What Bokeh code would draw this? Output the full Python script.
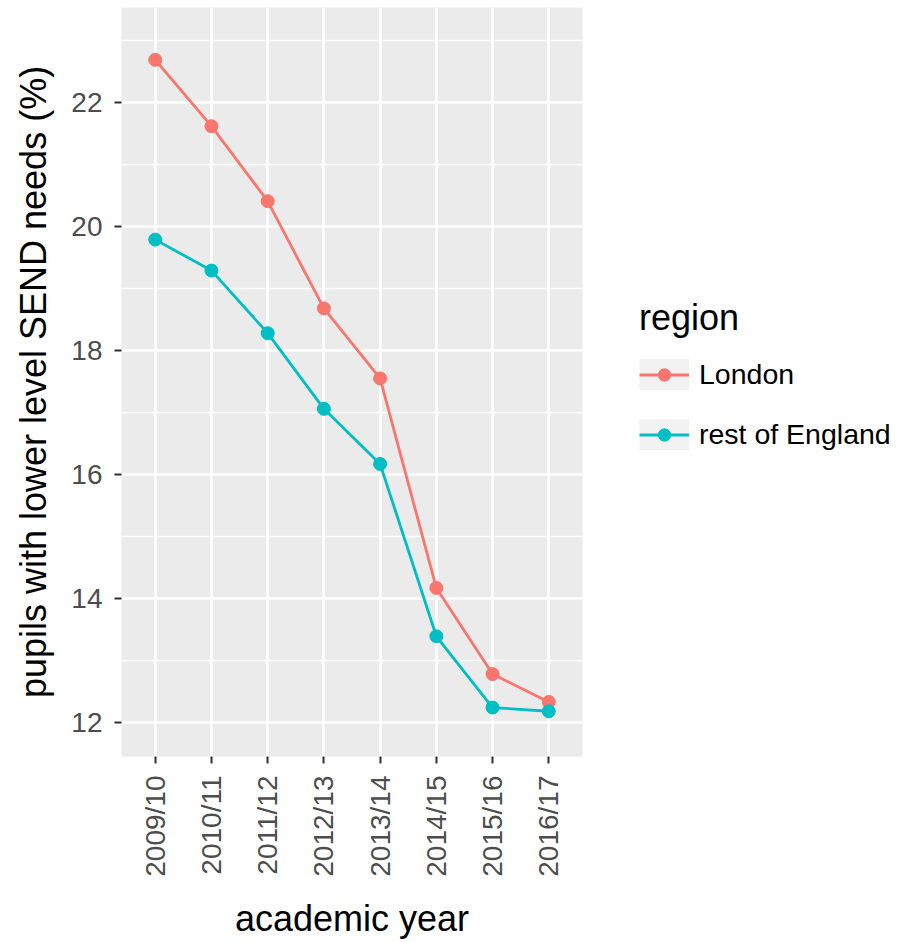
import math
from bokeh.plotting import figure
from bokeh.layouts import row
from bokeh.models import FactorRange, Range1d, FixedTicker, Legend, LegendItem
from bokeh.embed import file_html
from bokeh.resources import INLINE

# ---- data ----
years = ["2009/10", "2010/11", "2011/12", "2012/13", "2013/14", "2014/15", "2015/16", "2016/17"]
london = [22.69, 21.62, 20.41, 18.68, 17.55, 14.17, 12.78, 12.33]
rest_of_england = [19.79, 19.29, 18.28, 17.06, 16.17, 13.39, 12.24, 12.18]
y_ticks = [12, 14, 16, 18, 20, 22]
y_minor = [11, 13, 15, 17, 19, 21, 23]

FONT = "Liberation Sans"
C_LONDON = "#F8766D"
C_REST = "#00BFC4"

P_WIDTH = 590
TOTAL_W, TOTAL_H = 903, 942

p = figure(
    width=P_WIDTH, height=TOTAL_H,
    x_range=FactorRange(factors=years, range_padding=0.1, range_padding_units="absolute"),
    y_range=Range1d(11.45, 23.535),
    output_backend="svg", toolbar_location=None,
    min_border_left=121, min_border_right=8, min_border_top=7, min_border_bottom=186,
)
p.background_fill_color = "#EBEBEB"
p.border_fill_color = "white"
p.outline_line_color = None

for ax in (p.xaxis[0], p.yaxis[0]):
    ax.axis_line_color = None
    ax.major_tick_line_color = "#333333"
    ax.major_tick_line_width = 2
    ax.major_tick_in = 0
    ax.major_tick_out = 7
    ax.minor_tick_line_color = None
    ax.major_label_text_font = FONT
    ax.major_label_text_font_size = "28px"
    ax.major_label_text_color = "#4D4D4D"
    ax.axis_label_text_font = FONT
    ax.axis_label_text_font_size = "36px"
    ax.axis_label_text_font_style = "normal"
    ax.axis_label_text_color = "black"

p.xaxis.axis_label = "academic year"
p.xaxis.major_label_orientation = math.pi / 2
p.xaxis.major_label_text_baseline = "top"
p.xaxis.major_label_standoff = 12
p.xaxis.axis_label_standoff = 18

p.yaxis.ticker = FixedTicker(ticks=y_ticks, minor_ticks=y_minor)
p.yaxis.axis_label = "pupils with lower level SEND needs (%)"
p.yaxis.major_label_standoff = 12
p.yaxis.axis_label_standoff = 14

p.xgrid.grid_line_color = "white"
p.xgrid.grid_line_width = 2.6
p.ygrid.grid_line_color = "white"
p.ygrid.grid_line_width = 2.6
p.ygrid.minor_grid_line_color = "white"
p.ygrid.minor_grid_line_width = 1.3

p.line(years, london, line_color=C_LONDON, line_width=2.8)
p.scatter(years, london, size=13, color=C_LONDON)
p.line(years, rest_of_england, line_color=C_REST, line_width=2.8)
p.scatter(years, rest_of_england, size=13, color=C_REST)

# ---- legend panel (separate figure to the right) ----
q = figure(
    width=TOTAL_W - P_WIDTH, height=TOTAL_H,
    x_range=FactorRange(factors=years), y_range=Range1d(0, 1),
    x_axis_location=None, y_axis_location=None,
    output_backend="svg", toolbar_location=None,
    min_border=0, outline_line_color=None,
)
q.background_fill_color = "white"
q.border_fill_color = "white"
q.grid.visible = False

# legend-key renderers (hidden: only used to draw the legend keys)
key_bg = q.line(x=[years[0]], y=[london[0]], line_color="#F2F2F2", line_width=55, visible=False)
kl1 = q.line(years, london, line_color=C_LONDON, line_width=2.8, visible=False)
ks1 = q.scatter(years, london, size=13, color=C_LONDON, visible=False)
kl2 = q.line(years, rest_of_england, line_color=C_REST, line_width=2.8, visible=False)
ks2 = q.scatter(years, rest_of_england, size=13, color=C_REST, visible=False)

legend = Legend(
    items=[
        LegendItem(label="London", renderers=[key_bg, kl1, ks1]),
        LegendItem(label="rest of England", renderers=[key_bg, kl2, ks2]),
    ],
    location=(639 - P_WIDTH, 305),
    title="region",
    glyph_width=50, glyph_height=31,
    label_standoff=10, spacing=27, padding=0, margin=0,
    border_line_color=None, background_fill_alpha=0,
    inactive_fill_alpha=0,
    label_text_font=FONT, label_text_font_size="28.5px", label_text_color="black",
    title_text_font=FONT, title_text_font_size="36px", title_text_font_style="normal",
    title_text_color="black", title_standoff=19,
)
q.add_layout(legend, "center")

layout = row(p, q, spacing=0)
open("out.html", "w").write(file_html(layout, INLINE))
